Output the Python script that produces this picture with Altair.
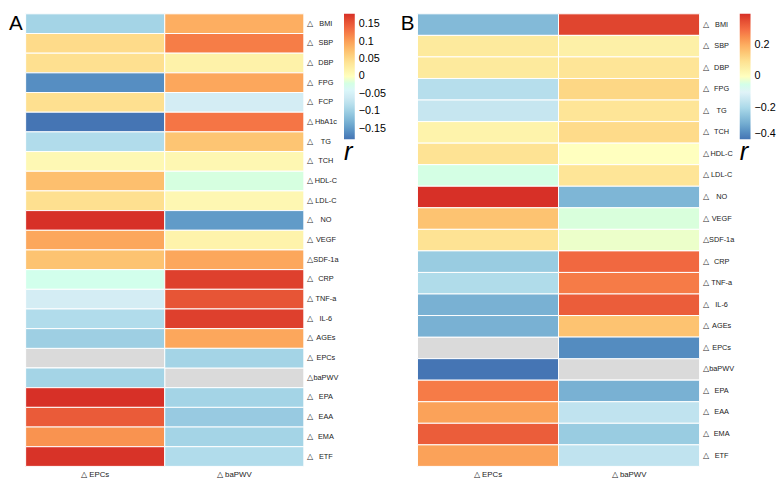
import altair as alt
import pandas as pd

cols = ["EPCs", "baPWV"]

rows_a = ["BMI", "SBP", "DBP", "FPG", "FCP", "HbA1c", "TG", "TCH", "HDL-C", "LDL-C",
          "NO", "VEGF", "SDF-1a", "CRP", "TNF-a", "IL-6", "AGEs", "EPCs", "baPWV",
          "EPA", "EAA", "EMA", "ETF"]
epcs_a = [-0.095, 0.05, 0.045, -0.16, 0.045, -0.18, -0.085, 0.01, 0.075, 0.045,
          0.18, 0.095, 0.072, -0.025, -0.055, -0.085, -0.10, None, -0.095,
          0.18, 0.15, 0.11, 0.178]
bapwv_a = [0.09, 0.125, 0.02, 0.095, -0.055, 0.13, 0.07, 0.012, -0.018, 0.012,
           -0.15, 0.018, 0.095, 0.17, 0.155, 0.17, 0.095, -0.095, None,
           -0.095, -0.105, -0.095, -0.085]

rows_b = ["BMI", "SBP", "DBP", "FPG", "TG", "TCH", "HDL-C", "LDL-C", "NO", "VEGF",
          "SDF-1a", "CRP", "TNF-a", "IL-6", "AGEs", "EPCs", "baPWV", "EPA", "EAA",
          "EMA", "ETF"]
epcs_b = [-0.27, 0.07, 0.07, -0.18, -0.15, 0.04, 0.09, -0.045, 0.40, 0.16,
          0.09, -0.23, -0.19, -0.29, -0.29, None, -0.40, 0.28, 0.22,
          0.33, 0.22]
bapwv_b = [0.37, 0.05, 0.085, 0.12, 0.085, 0.11, 0.0, 0.085, -0.28, -0.035,
           -0.015, 0.31, 0.28, 0.33, 0.16, -0.36, None, -0.29, -0.16,
           -0.23, -0.16]

ticks_a = [0.15, 0.1, 0.05, 0, -0.05, -0.1, -0.15]
ticks_b = [0.2, 0, -0.2, -0.4]

palette = ["#4575b4", "#74add1", "#abd9e9", "#e0f3f8", "#ffffbf",
           "#fee090", "#fdae61", "#f46d43", "#d73027"]

FONT = "Liberation Sans"


def panel(rows, epcs, bapwv, lo, hi, ticks, letter, w, h):
    recs = []
    for i, r in enumerate(rows):
        recs.append({"row": r, "col": "EPCs", "r": epcs[i]})
        recs.append({"row": r, "col": "baPWV", "r": bapwv[i]})
    df = pd.DataFrame(recs)
    domain = [lo + (hi - lo) * k / 8 for k in range(9)]

    base = alt.Chart(df)
    xenc = alt.X("col:N", sort=cols,
                 axis=alt.Axis(title=None, orient="bottom", labelAngle=0,
                               ticks=False, domain=False, labelFontSize=8,
                               labelPadding=4, labelColor="#222", labelFont=FONT,
                               labelExpr="'\u25b3 ' + datum.label"))
    yenc = alt.Y("row:N", sort=rows,
                 axis=alt.Axis(title=None, orient="right", ticks=False,
                               domain=False, labelAlign="center",
                               labelPadding=22, labelFontSize=7.5,
                               labelColor="#222", labelFont=FONT))
    gray = base.mark_rect(stroke="white", strokeWidth=1, color="#dadada").encode(
        x=xenc, y=yenc)
    colored = base.transform_filter("isValid(datum.r)").mark_rect(
        stroke="white", strokeWidth=1).encode(
        x=xenc, y=yenc,
        color=alt.Color("r:Q",
                        scale=alt.Scale(domain=domain, range=palette),
                        legend=alt.Legend(
                            title="r", titleOrient="bottom", titleFontSize=26,
                            titleFontStyle="italic", titleFontWeight="normal",
                            titleColor="black", titleFont=FONT, titlePadding=0,
                            titleAnchor="start",
                            gradientLength=128, gradientThickness=11,
                            gradientStrokeWidth=0,
                            values=ticks, labelFontSize=11,
                            labelExpr="datum.value == 0 ? '0' : format(datum.value, '.2~f')",
                            labelColor="black", labelFont=FONT, labelOffset=4,
                            labelOverlap=False,
                            offset=6, direction="vertical")))
    tri = base.transform_filter("datum.col == 'EPCs'").mark_text(
        align="left", baseline="middle", fontSize=8, color="#333", font=FONT
    ).encode(x=alt.value(w + 3), y=yenc, text=alt.value("\u25b3"))
    lab = alt.Chart(pd.DataFrame({"t": [letter]})).mark_text(
        align="right", baseline="top", fontSize=21, color="black", font=FONT
    ).encode(x=alt.value(-3), y=alt.value(0), text="t:N")
    return alt.layer(gray, colored, tri, lab).properties(width=w, height=h)


pa = panel(rows_a, epcs_a, bapwv_a, -0.18, 0.18, ticks_a, "A", 284, 462)
pb = panel(rows_b, epcs_b, bapwv_b, -0.4, 0.4, ticks_b, "B", 288, 462)

chart = alt.hconcat(pa, pb, spacing=14).resolve_scale(
    color="independent", x="independent", y="independent"
).configure(padding=0).configure_view(stroke=None)

chart.save("out.html", embed_options={"renderer": "svg", "actions": False})
